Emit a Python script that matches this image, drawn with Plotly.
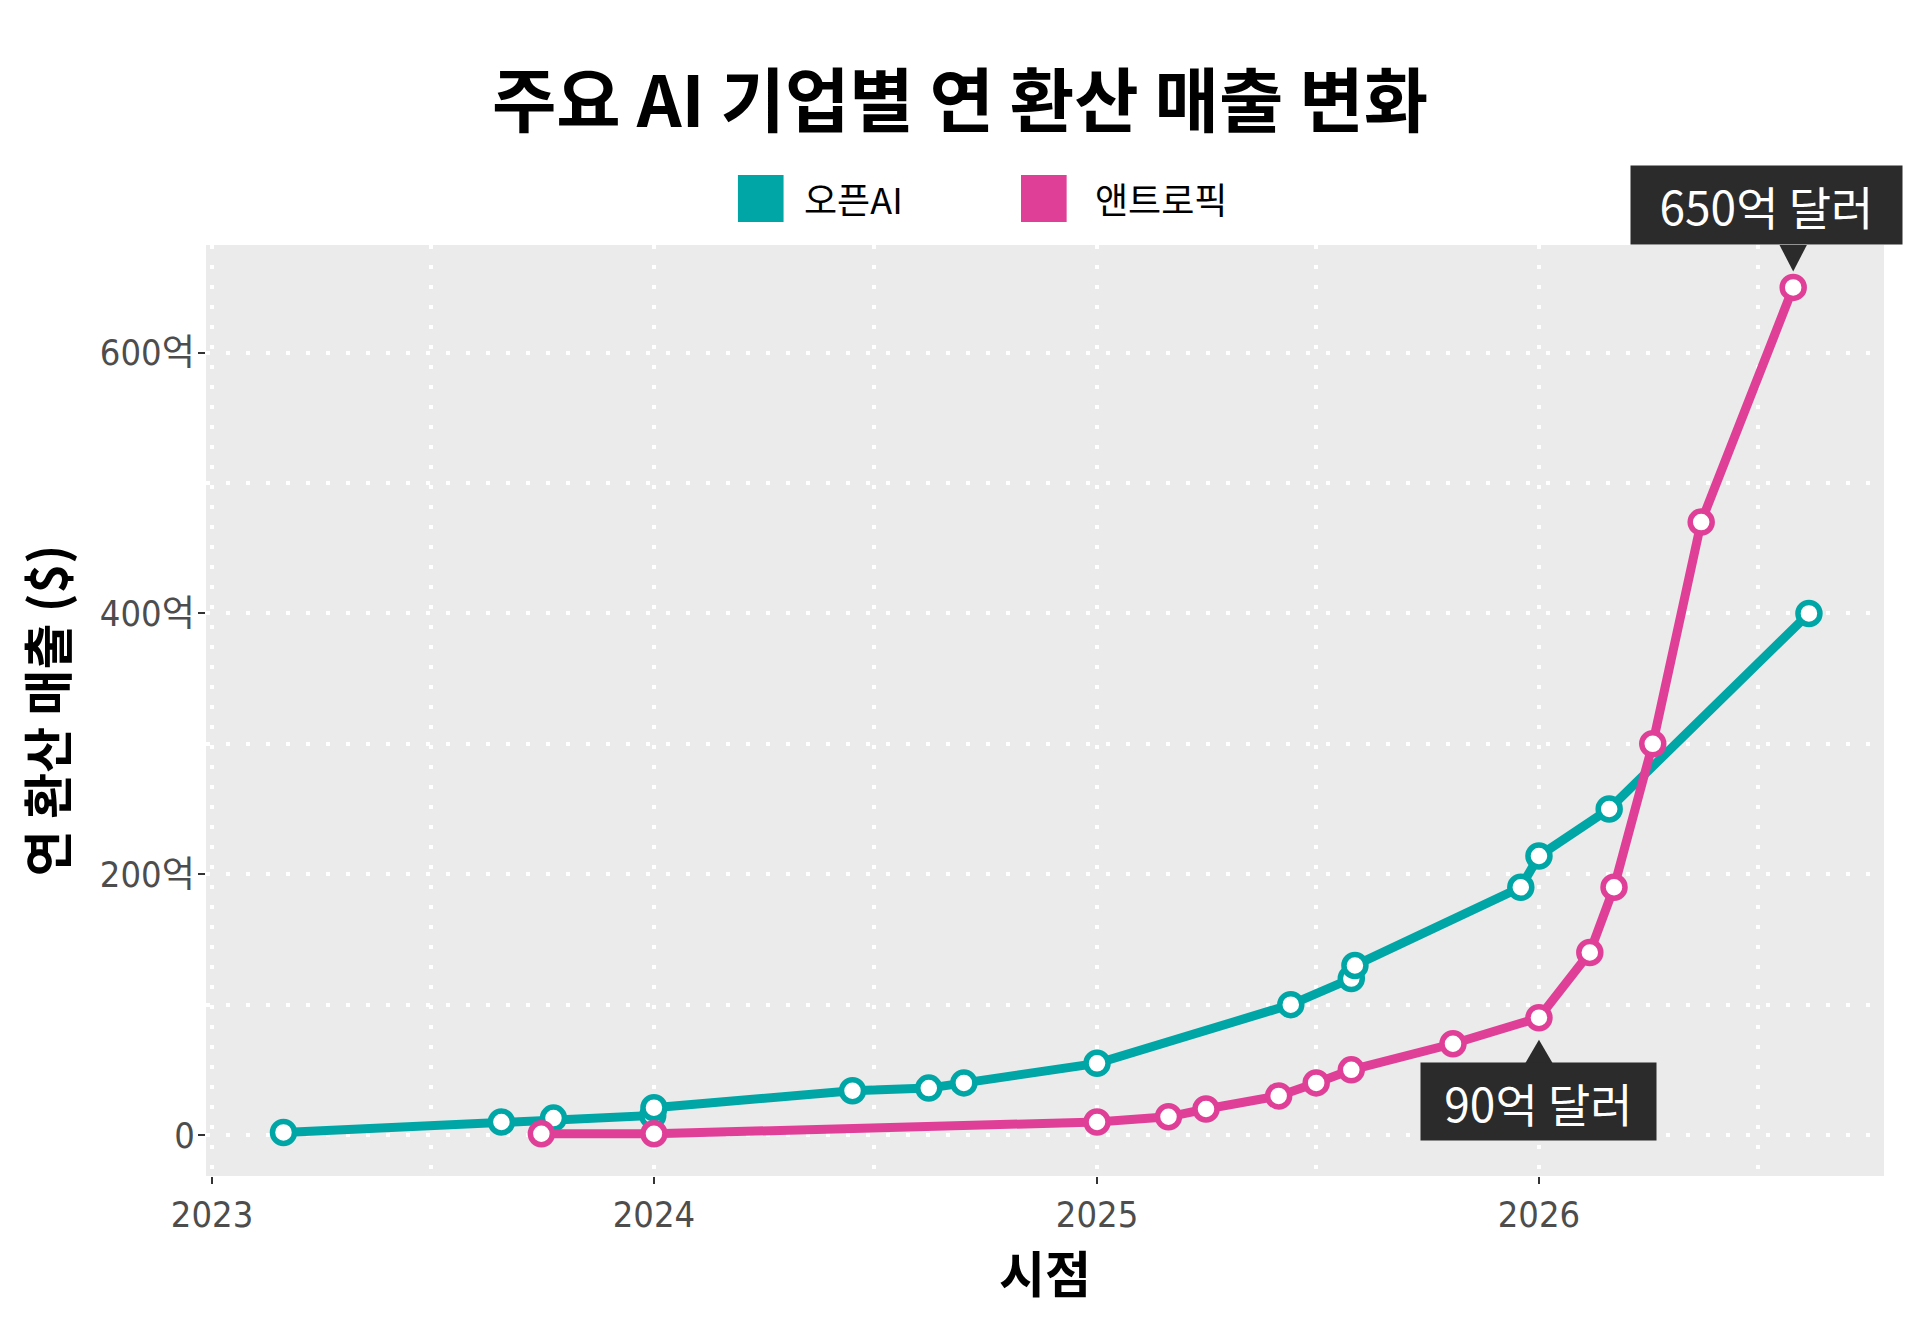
import plotly.graph_objects as go

# OpenAI annualized revenue (unit: 억 달러)
openai_dates = ["2023-03-01", "2023-08-28", "2023-10-10", "2023-12-31", "2024-01-01",
                "2024-06-13", "2024-08-15", "2024-09-13", "2025-01-01", "2025-06-10",
                "2025-07-30", "2025-08-02", "2025-12-17", "2026-01-01", "2026-02-28",
                "2026-08-12"]
openai_vals = [2, 10, 13, 15, 21, 34, 36, 40, 55, 100, 120, 130, 190, 214, 250, 400]

# Anthropic annualized revenue (unit: 억 달러)
anthropic_dates = ["2023-09-30", "2024-01-01", "2025-01-01", "2025-03-01", "2025-04-01",
                   "2025-05-31", "2025-07-01", "2025-07-30", "2025-10-22", "2026-01-01",
                   "2026-02-12", "2026-03-04", "2026-04-05", "2026-05-15", "2026-07-30"]
anthropic_vals = [1, 1, 10, 14, 20, 30, 40, 50, 70, 90, 140, 190, 300, 470, 650]

series_names = ["오픈AI", "앤트로픽"]
series_colors = ["#00a6a6", "#e03f98"]

y_tickvals = [0, 200, 400, 600]
y_ticktext = ["0", "200억", "400억", "600억"]

KR = "Noto Sans CJK KR"
NARROW = "DejaVu Sans Condensed, Liberation Sans Narrow, Noto Sans CJK KR"

fig = go.Figure()

for name, xs, ys, col in zip(series_names,
                             [openai_dates, anthropic_dates],
                             [openai_vals, anthropic_vals],
                             series_colors):
    fig.add_trace(go.Scatter(
        x=xs, y=ys, name=name, mode="lines+markers",
        line=dict(color=col, width=9),
        marker=dict(size=22, color="white", line=dict(color=col, width=5.5)),
        showlegend=False,
    ))

# callout boxes (text) for Anthropic points
callouts = [
    (anthropic_dates[-1], anthropic_vals[-1], "650억 달러", -27, 82, 271, 78),
    (anthropic_dates[9], anthropic_vals[9], "90억 달러", 0, -84, 235, 77),
]
for x, y, txt, xs, ys, w, h in callouts:
    fig.add_annotation(x=x, y=y, text=txt, showarrow=False, xshift=xs, yshift=ys,
                       width=w, height=h, borderpad=0, bgcolor="#2b2b2b",
                       font=dict(family=KR, size=46, color="white"))

# little pointer triangles
fig.add_shape(type="path", xref="x", yref="y", xsizemode="pixel", ysizemode="pixel",
              xanchor=anthropic_dates[-1], yanchor=anthropic_vals[-1],
              path="M -14,43 L 14,43 L 0,16 Z", fillcolor="#2b2b2b", line=dict(width=0))
fig.add_shape(type="path", xref="x", yref="y", xsizemode="pixel", ysizemode="pixel",
              xanchor=anthropic_dates[9], yanchor=anthropic_vals[9],
              path="M -14,-46 L 14,-46 L 0,-22 Z", fillcolor="#2b2b2b", line=dict(width=0))

# legend drawn by hand (big squares like the original)
leg_x = [0.317, 0.4857]
leg_lbl_x = [0.3552, 0.5286]
for i in range(2):
    fig.add_shape(type="rect", xref="paper", yref="paper",
                  x0=leg_x[i], x1=leg_x[i] + 0.0272, y0=1.0247, y1=1.0752,
                  fillcolor=series_colors[i], line=dict(width=0))
    fig.add_annotation(xref="paper", yref="paper", x=leg_lbl_x[i], y=1.0505,
                       xanchor="left", yanchor="middle", showarrow=False,
                       text=series_names[i], font=dict(family=KR, size=36, color="black"))

grid = dict(gridcolor="white", gridwidth=4, griddash="4px,16px")

fig.update_layout(
    width=1920, height=1329,
    margin=dict(l=206, r=36, t=245, b=153),
    paper_bgcolor="white", plot_bgcolor="#ebebeb",
    title=dict(text="<b>주요 AI 기업별 연 환산 매출 변화</b>", x=0.5, xanchor="center",
               y=1 - 102 / 1329, yanchor="middle",
               font=dict(family=KR, size=70, color="black")),
    xaxis=dict(
        type="date", range=["2022-12-27", "2026-10-13"],
        tick0="2023-01-01", dtick="M12", tickformat="%Y",
        ticks="outside", ticklen=7, tickwidth=2, tickcolor="#333333",
        tickfont=dict(family=NARROW, size=36, color="#4d4d4d"),
        showgrid=True, **grid, zeroline=False, showline=False,
        minor=dict(dtick="M6", tick0="2023-01-01", showgrid=True, **grid),
        title=dict(text="<b>시점</b>", standoff=8,
                   font=dict(family=KR, size=50, color="black")),
    ),
    yaxis=dict(
        range=[-31.4, 682.5],
        tickmode="array", tickvals=y_tickvals, ticktext=y_ticktext,
        ticks="outside", ticklen=7, tickwidth=2, tickcolor="#333333",
        ticklabelstandoff=-4,
        tickfont=dict(family=NARROW, size=36, color="#4d4d4d"),
        showgrid=True, **grid, zeroline=False, showline=False,
        minor=dict(dtick=100, tick0=0, showgrid=True, **grid),
        title=dict(text="<b>연 환산 매출 ($)</b>", standoff=16,
                   font=dict(family=KR, size=50, color="black")),
    ),
)

fig.write_html("out.html", config={"displayModeBar": False},
               post_script="document.body.style.margin='0';document.body.style.overflow='hidden';")
